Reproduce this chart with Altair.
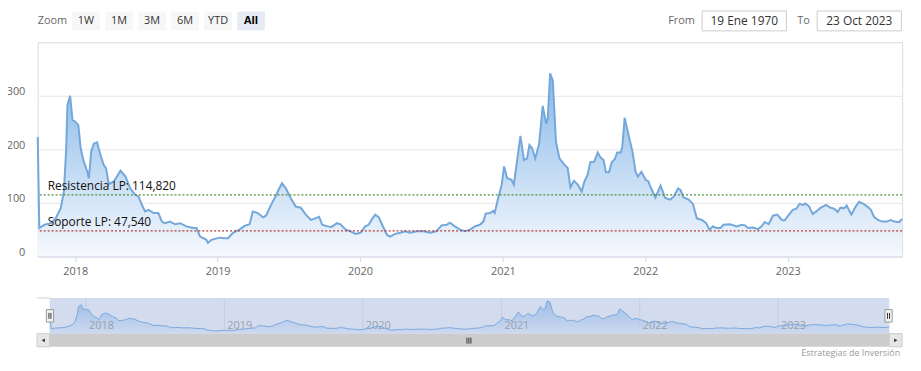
import altair as alt
import pandas as pd

# ---------------- data ----------------
t_years = [
    2017.737, 2017.749, 2017.784, 2017.831, 2017.865, 2017.900, 2017.923, 2017.939, 2017.946, 2017.965,
    2017.981, 2018.005, 2018.023, 2018.040, 2018.063, 2018.086, 2018.098, 2018.114, 2018.132, 2018.156,
    2018.179, 2018.202, 2018.218, 2018.237, 2018.272, 2018.319, 2018.354, 2018.388, 2018.423, 2018.446,
    2018.469, 2018.493, 2018.516, 2018.551, 2018.586, 2018.609, 2018.632, 2018.667, 2018.702, 2018.737,
    2018.783, 2018.830, 2018.853, 2018.877, 2018.900, 2018.923, 2018.934, 2018.957, 2019.016, 2019.039,
    2019.074, 2019.109, 2019.156, 2019.190, 2019.225, 2019.248, 2019.283, 2019.318, 2019.341, 2019.365,
    2019.388, 2019.411, 2019.430, 2019.453, 2019.481, 2019.515, 2019.550, 2019.585, 2019.620, 2019.655,
    2019.679, 2019.713, 2019.736, 2019.771, 2019.801, 2019.841, 2019.864, 2019.899, 2019.934, 2019.969,
    2020.003, 2020.038, 2020.062, 2020.085, 2020.108, 2020.132, 2020.155, 2020.190, 2020.213, 2020.248,
    2020.282, 2020.317, 2020.352, 2020.399, 2020.446, 2020.492, 2020.538, 2020.573, 2020.608, 2020.631,
    2020.666, 2020.701, 2020.736, 2020.771, 2020.806, 2020.840, 2020.864, 2020.882, 2020.910, 2020.934,
    2020.945, 2020.969, 2020.992, 2021.010, 2021.031, 2021.061, 2021.077, 2021.101, 2021.126, 2021.150,
    2021.171, 2021.189, 2021.208, 2021.229, 2021.255, 2021.282, 2021.305, 2021.317, 2021.333, 2021.352,
    2021.375, 2021.398, 2021.433, 2021.457, 2021.475, 2021.499, 2021.527, 2021.554, 2021.573, 2021.596,
    2021.614, 2021.642, 2021.666, 2021.689, 2021.708, 2021.724, 2021.747, 2021.766, 2021.789, 2021.805,
    2021.828, 2021.840, 2021.856, 2021.879, 2021.910, 2021.933, 2021.949, 2021.973, 2022.003, 2022.022,
    2022.038, 2022.073, 2022.107, 2022.142, 2022.177, 2022.200, 2022.231, 2022.247, 2022.270, 2022.305,
    2022.335, 2022.363, 2022.398, 2022.428, 2022.451, 2022.475, 2022.503, 2022.531, 2022.549, 2022.596,
    2022.642, 2022.677, 2022.700, 2022.723, 2022.758, 2022.793, 2022.817, 2022.840, 2022.868, 2022.898,
    2022.928, 2022.960, 2022.979, 2023.009, 2023.037, 2023.061, 2023.084, 2023.107, 2023.124, 2023.153,
    2023.176, 2023.200, 2023.230, 2023.270, 2023.300, 2023.328, 2023.351, 2023.370, 2023.398, 2023.416,
    2023.449, 2023.479, 2023.502, 2023.532, 2023.560, 2023.584, 2023.607, 2023.635, 2023.665, 2023.699,
    2023.723, 2023.751, 2023.781, 2023.804,
]
values = [
    223, 53, 59, 62, 71, 90, 121, 202, 282, 300,
    255, 251, 245, 202, 177, 158, 146, 196, 211, 213,
    189, 171, 165, 135, 140, 160, 149, 127, 115, 112,
    96, 84, 87, 81, 81, 65, 62, 65, 60, 62,
    56, 53, 53, 37, 34, 31, 25, 31, 35, 34,
    34, 44, 50, 57, 60, 84, 81, 73, 76, 90,
    102, 114, 124, 137, 127, 109, 93, 91, 78, 68,
    70, 74, 59, 56, 55, 62, 60, 50, 47, 42,
    44, 56, 59, 70, 78, 73, 60, 40, 37, 42,
    44, 47, 44, 47, 47, 44, 47, 58, 59, 63,
    56, 50, 47, 50, 56, 59, 65, 80, 81, 85,
    81, 109, 134, 168, 146, 143, 134, 177, 225, 180,
    183, 208, 202, 183, 211, 281, 248, 258, 342, 328,
    214, 183, 171, 165, 129, 141, 134, 121, 140, 152,
    176, 177, 194, 184, 180, 157, 157, 176, 182, 194,
    194, 205, 259, 233, 196, 158, 149, 158, 143, 140,
    130, 110, 132, 109, 106, 112, 127, 124, 110, 106,
    98, 71, 68, 62, 50, 56, 53, 53, 59, 60,
    56, 59, 58, 53, 54, 51, 56, 64, 60, 76,
    78, 68, 67, 78, 87, 89, 98, 96, 99, 93,
    79, 84, 90, 96, 91, 89, 83, 91, 90, 95,
    78, 93, 102, 98, 93, 87, 74, 68, 65, 65,
    68, 65, 64, 70,
]

level_names = ["Resistencia LP", "Soporte LP"]
level_values = [114.82, 47.54]
level_colors = ["#4e8f3e", "#b23b3b"]

y_ticks = [0, 100, 200, 300, 400]
year_ticks = [2018, 2019, 2020, 2021, 2022, 2023]

zoom_buttons = ["1W", "1M", "3M", "6M", "YTD", "All"]
selected_button = "All"
date_from = "19 Ene 1970"
date_to = "23 Oct 2023"
credits_text = "Estrategias de Inversión"

FONT = "Open Sans"


def to_date(v):
    y = int(v)
    s = pd.Timestamp(year=y, month=1, day=1)
    e = pd.Timestamp(year=y + 1, month=1, day=1)
    return (s + (e - s) * (v - y)).strftime("%Y-%m-%d")


dates = [to_date(v) for v in t_years]
df = pd.DataFrame({"date": dates, "value": values})

levels = pd.DataFrame({
    "value": level_values,
    "color": level_colors,
    "label": [f"{n}: {v:.3f}".replace(".", ",") for n, v in zip(level_names, level_values)],
})
years_df = pd.DataFrame({"date": [f"{y}-01-01" for y in year_ticks], "year": [str(y) for y in year_ticks]})
one = pd.DataFrame({"k": [0]})


def dt(s):
    t = pd.Timestamp(s)
    return alt.DateTime(year=t.year, month=t.month, date=t.day, utc=True)


x_domain = [dt(dates[0]), dt(dates[-1])]

# ---------------- main plot ----------------
x_main = alt.X(
    "date:T",
    scale=alt.Scale(type="utc", domain=x_domain),
    axis=alt.Axis(
        values=[alt.DateTime(year=y, month=1, date=1, utc=True) for y in year_ticks],
        format="%Y", title=None, grid=False,
        domainColor="#ccd6eb", tickColor="#ccd6eb", tickSize=5,
        labelColor="#666666", labelFontSize=11, labelFont=FONT, labelPadding=4,
    ),
)
y_main = alt.Y(
    "value:Q",
    scale=alt.Scale(domain=[0, 400], nice=False, zero=True),
    axis=alt.Axis(
        values=y_ticks, title=None, domain=False, ticks=False,
        gridColor="#e6e6e6", labelColor="#666666", labelFontSize=11, labelFont=FONT,
        labelPadding=13, labelOffset=-4,
        labelExpr="datum.value == 400 ? '' : datum.label",
    ),
)

main_grad = alt.Gradient(
    gradient="linear",
    stops=[alt.GradientStop(color="#80b4e8", offset=0), alt.GradientStop(color="#f6f9fd", offset=1)],
    x1=0, x2=0, y1=0, y2=1,
)

area = alt.Chart(df).mark_area(color=main_grad, opacity=0.95).encode(x=x_main, y=y_main)
line = alt.Chart(df).mark_line(color="#74a7da", strokeWidth=2).encode(x=x_main, y=y_main)
rules = alt.Chart(levels).mark_rule(strokeDash=[2, 2], strokeWidth=1.2).encode(
    y=alt.Y("value:Q"), color=alt.Color("color:N", scale=None)
)
rule_text = alt.Chart(levels).mark_text(
    align="left", baseline="bottom", dy=-2, fontSize=12, font=FONT, color="#111111"
).encode(x=alt.value(10), y=alt.Y("value:Q"), text="label:N")

main = alt.layer(area, line, rules, rule_text)

# ---------------- navigator ----------------
NX0, NX1, NY0, NY1 = 12, 859, 258, 294
x_nav_scale = alt.Scale(type="utc", domain=x_domain, range=[NX0, NX1])
y_nav_scale = alt.Scale(domain=[0, 370], range=[NY1, NY0], nice=False)

nav_bg = alt.Chart(one).mark_rect(color="#d3dcee").encode(
    x=alt.value(NX0), x2=alt.value(NX1), y=alt.value(NY0), y2=alt.value(NY1)
)
nav_grid = alt.Chart(years_df).mark_rule(color="#c4cde0", strokeWidth=1).encode(
    x=alt.X("date:T", scale=x_nav_scale, axis=None), y=alt.value(NY0), y2=alt.value(NY1)
)
nav_labels = alt.Chart(years_df).mark_text(
    align="left", baseline="middle", dx=3, fontSize=11, font=FONT, color="#9aa0aa"
).encode(x=alt.X("date:T", scale=x_nav_scale, axis=None), y=alt.value(286), text="year:N")
nav_grad = alt.Gradient(
    gradient="linear",
    stops=[alt.GradientStop(color="#8cb3e6", offset=0), alt.GradientStop(color="#cbd8ef", offset=1)],
    x1=0, x2=0, y1=0, y2=1,
)
nav_area = alt.Chart(df).mark_area(color=nav_grad, opacity=0.75).encode(
    x=alt.X("date:T", scale=x_nav_scale, axis=None),
    y=alt.Y("value:Q", scale=y_nav_scale, axis=None),
)
nav_line = alt.Chart(df).mark_line(color="#7aa8dc", strokeWidth=1).encode(
    x=alt.X("date:T", scale=x_nav_scale, axis=None),
    y=alt.Y("value:Q", scale=y_nav_scale, axis=None),
)
nav = alt.layer(nav_bg, nav_grid, nav_area, nav_labels, nav_line)

# ---------------- UI elements (toolbar, scrollbar, handles, credits) ----------------
def box(x0, x1, y0, y1, fill, stroke=None):
    kw = dict(fill=fill)
    if stroke:
        kw.update(stroke=stroke, strokeWidth=1)
    return alt.Chart(one).mark_rect(**kw).encode(
        x=alt.value(x0), x2=alt.value(x1), y=alt.value(y0), y2=alt.value(y1)
    )


def label(txt, x, y, align="left", size=11, color="#666666", weight="normal"):
    return alt.Chart(one).mark_text(
        text=txt, align=align, baseline="middle", fontSize=size, font=FONT, color=color, fontWeight=weight
    ).encode(x=alt.value(x), y=alt.value(y))


def vline(x, y0, y1, color="#333333", w=1):
    return alt.Chart(one).mark_rule(color=color, strokeWidth=w).encode(
        x=alt.value(x), y=alt.value(y0), y2=alt.value(y1)
    )


btn_df = pd.DataFrame({"label": zoom_buttons, "i": list(range(len(zoom_buttons)))})
btn_base = alt.Chart(btn_df).transform_calculate(
    bx="34.7 + 33.3 * datum.i",
    bx2="34.7 + 33.3 * datum.i + 28",
    bc="34.7 + 33.3 * datum.i + 14",
    fillc=f"datum.label == '{selected_button}' ? '#e6ebf5' : '#f7f7f7'",
)
btn_rects = btn_base.mark_rect().encode(
    x=alt.X("bx:Q", scale=None), x2="bx2:Q",
    y=alt.value(-31), y2=alt.value(-12),
    fill=alt.Fill("fillc:N", scale=None),
)
btn_text = btn_base.transform_filter(f"datum.label != '{selected_button}'").mark_text(
    baseline="middle", fontSize=11, font=FONT, color="#333333"
).encode(x=alt.X("bc:Q", scale=None), y=alt.value(-21.5), text="label:N")
btn_text_sel = btn_base.transform_filter(f"datum.label == '{selected_button}'").mark_text(
    baseline="middle", fontSize=11, font=FONT, color="#000000", fontWeight="bold"
).encode(x=alt.X("bc:Q", scale=None), y=alt.value(-21.5), text="label:N")

ui = alt.layer(
    label("Zoom", 0, -21.5),
    btn_rects, btn_text, btn_text_sel,
    label("From", 663, -21.5, align="right"),
    box(670.3, 755.3, -31.5, -11.5, "#ffffff", "#cccccc"),
    label(date_from, 712.8, -21.5, align="center", size=12, color="#333333"),
    label("To", 779, -21.5, align="right"),
    box(786.3, 871.3, -31.5, -11.5, "#ffffff", "#cccccc"),
    label(date_to, 828.8, -21.5, align="center", size=12, color="#333333"),
    # navigator outline & scrollbar
    alt.Chart(one).mark_rule(color="#cccccc").encode(
        x=alt.value(-1), x2=alt.value(NX0), y=alt.value(NY0)
    ),
    box(-0.7, 872, 294, 307.3, "#cccccc"),
    box(-0.7, 12, 294, 307.3, "#e6e6e6", "#cccccc"),
    box(859, 872, 294, 307.3, "#e6e6e6", "#cccccc"),
    alt.Chart(one).mark_point(shape="triangle-left", filled=True, size=14, color="#333333", opacity=1).encode(
        x=alt.value(5.6), y=alt.value(300.7)
    ),
    alt.Chart(one).mark_point(shape="triangle-right", filled=True, size=14, color="#333333", opacity=1).encode(
        x=alt.value(865.6), y=alt.value(300.7)
    ),
    vline(433, 298, 304), vline(435, 298, 304), vline(437, 298, 304),
    # handles
    box(8.7, 16, 269.7, 282.3, "#f2f2f2", "#999999"),
    vline(11.3, 273, 279), vline(13.3, 273, 279),
    box(854.7, 862, 269.7, 282.3, "#f2f2f2", "#999999"),
    vline(857.3, 273, 279), vline(859.3, 273, 279),
    # credits
    label(credits_text, 870, 314, align="right", size=9, color="#999999"),
)

chart = alt.layer(main, nav, ui).resolve_scale(
    x="independent", y="independent", color="independent", fill="independent"
).properties(
    width=872, height=216,
    autosize=alt.AutoSizeParams(type="none"),
    padding={"left": 30, "top": 33, "right": 11, "bottom": 106},
    background="#ffffff",
).configure_view(stroke=None).configure(font=FONT)

chart.save("out.html", embed_options={"renderer": "svg", "actions": False})
